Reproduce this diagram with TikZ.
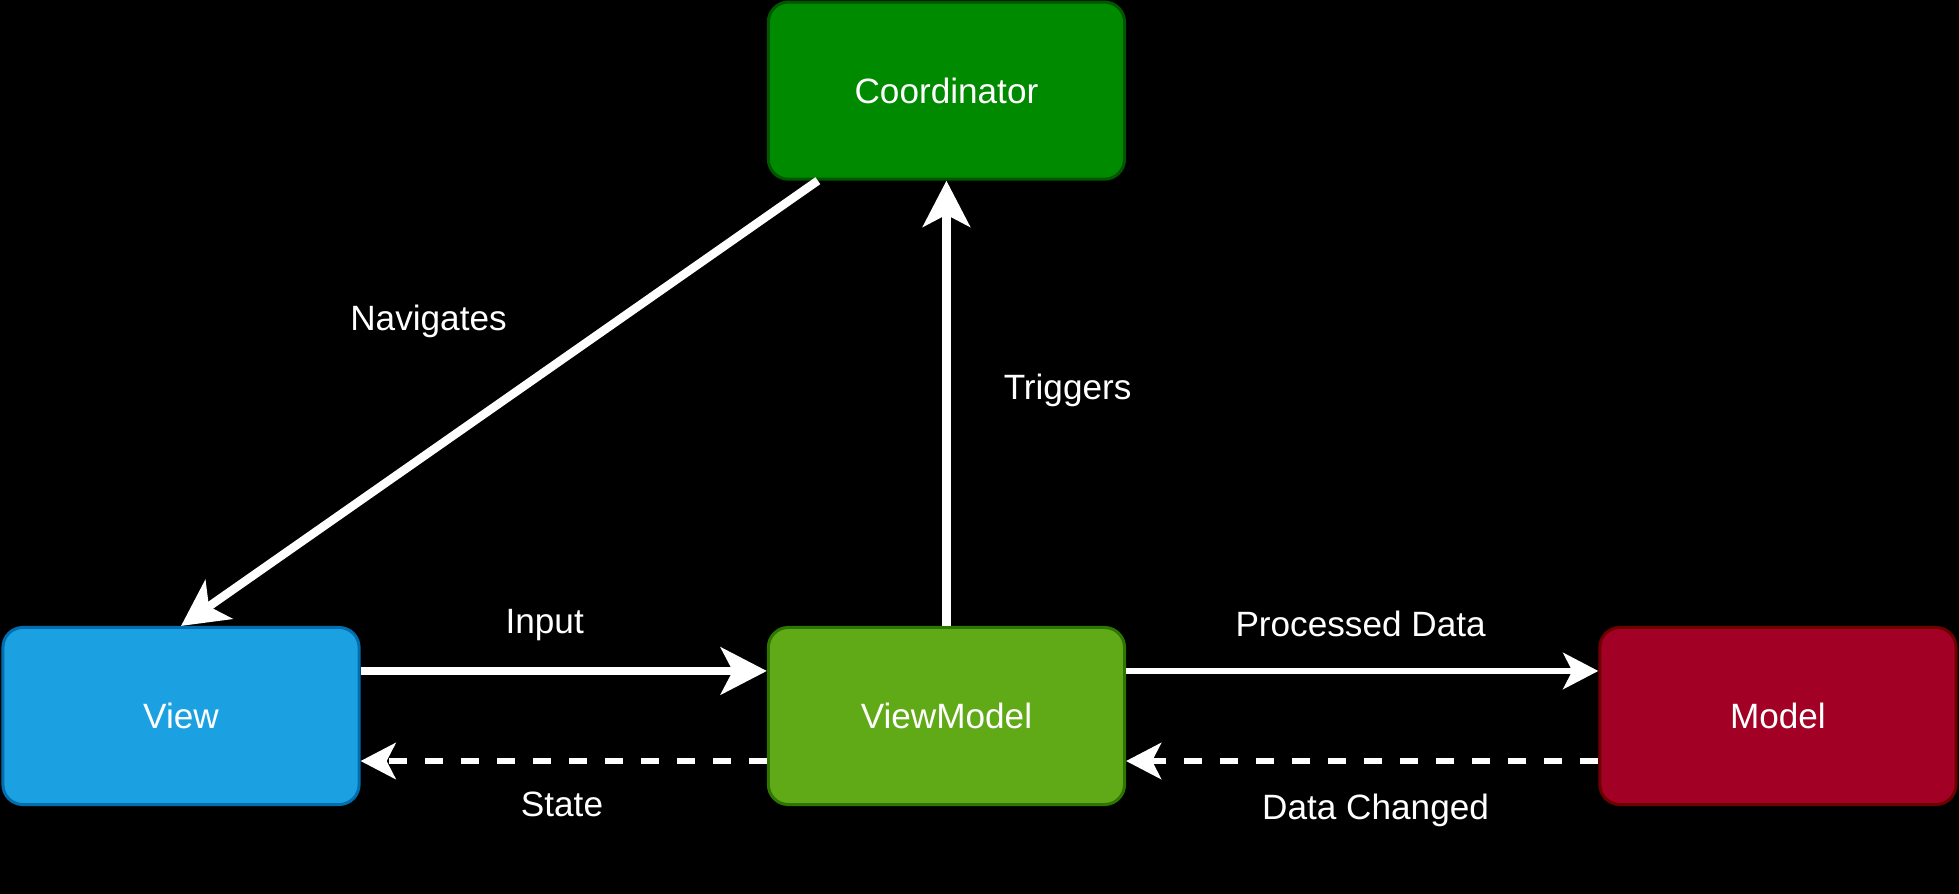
\documentclass[tikz,border=0pt]{standalone}
\usepackage{fontspec}
\setmainfont{Liberation Sans}
\usetikzlibrary{arrows.meta,positioning,calc}
\definecolor{viewblue}{HTML}{1BA1E2}
\definecolor{viewblueline}{HTML}{006EAF}
\definecolor{vmgreen}{HTML}{60A917}
\definecolor{vmgreenline}{HTML}{2D7600}
\definecolor{modelred}{HTML}{A20025}
\definecolor{modelredline}{HTML}{6F0000}
\definecolor{coordgreen}{HTML}{008A00}
\definecolor{coordgreenline}{HTML}{005700}
\tikzstyle{mvvm}=[draw,rounded corners=0.2cm,minimum width=3.56cm,minimum height=1.77cm,line width=0.03cm,text=white]
\tikzstyle{flow}=[draw=white,line width=0.085cm,-{Stealth[length=0.46cm,width=0.47cm,inset=0.12cm]}]
\tikzstyle{thinflow}=[draw=white,line width=0.065cm,-{Stealth[length=0.35cm,width=0.36cm,inset=0.09cm]}]
\tikzstyle{backflow}=[thinflow,dash pattern=on 0.18cm off 0.18cm]
\tikzstyle{lbl}=[text=white]

\begin{document}
\begin{tikzpicture}[x=0.01cm,y=-0.01cm,font=\fontsize{10}{12}\selectfont]
    \fill [black] (0,0) rectangle (1959,894);
    \useasboundingbox (0,0) rectangle (1959,894);
    \node [mvvm,fill=viewblue,draw=viewblueline] (view) at (181,716) {View};
    \node [mvvm,fill=vmgreen,draw=vmgreenline,right=4.06cm of view] (viewmodel) {ViewModel};
    \node [mvvm,fill=modelred,draw=modelredline,right=4.72cm of viewmodel] (model) {Model};
    \node [mvvm,fill=coordgreen,draw=coordgreenline,above=4.45cm of viewmodel] (coordinator) {Coordinator};

    \draw [flow] ([xshift=0.51cm]coordinator.south west) -- (view.north);
    \draw [flow] (viewmodel.north) -- (coordinator.south);
    \draw [flow] ([yshift=0.45cm]view.east) -- ([yshift=0.45cm]viewmodel.west);
    \draw [backflow] ([yshift=-0.45cm]viewmodel.west) -- ([yshift=-0.45cm]view.east);
    \draw [thinflow] ([yshift=0.45cm]viewmodel.east) -- ([yshift=0.45cm]model.west);
    \draw [backflow] ([yshift=-0.45cm]model.west) -- ([yshift=-0.45cm]viewmodel.east);

    \node [lbl] (navigates) at (428.5,321) {Navigates};
    \node [lbl] (triggers) at (1067.6,390.4) {Triggers};
    \node [lbl] (input) at (544.7,624.7) {Input};
    \node [lbl] (state) at (562,804.6) {State};
    \node [lbl] (processed) at (1360.6,623.5) {Processed Data};
    \node [lbl] (changed) at (1375.6,810.9) {Data Changed};
\end{tikzpicture}
\end{document}
